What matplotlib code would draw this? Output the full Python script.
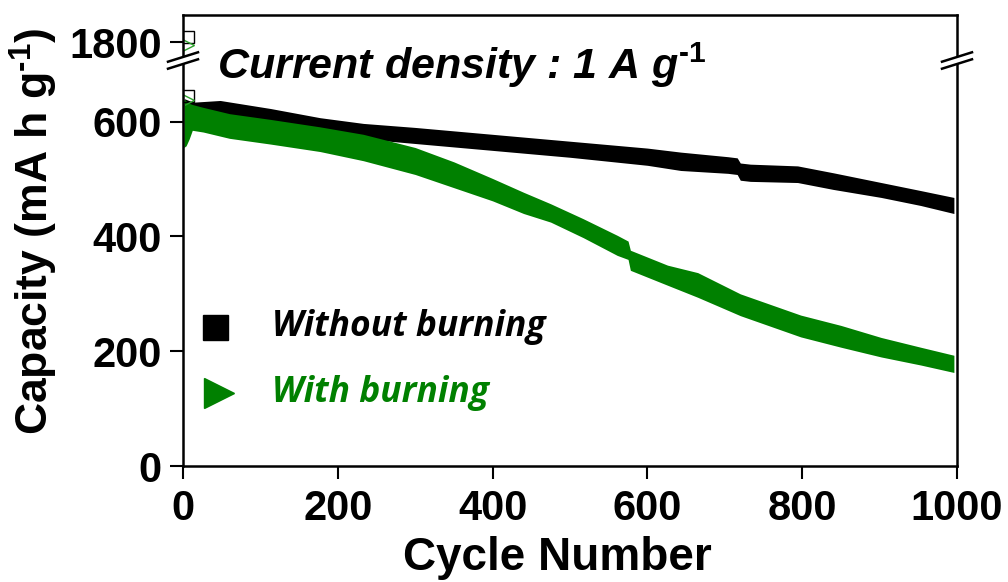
import matplotlib
matplotlib.use("Agg")
import matplotlib.pyplot as plt
from matplotlib.lines import Line2D
from matplotlib.patches import Polygon

# ---- data -------------------------------------------------------------
# capacity envelope (upper / lower edge of the scattered points), mA h g-1
cyc_plain = [2, 13, 48, 113, 177, 233, 300, 400, 500, 600, 643, 704, 716,
             720, 733, 794, 840, 902, 953, 996]
plain_hi = [640, 634, 637, 623, 607, 597, 590, 578, 566, 554, 547, 539, 537,
            528, 526, 523, 511, 494, 480, 468]
plain_lo = [590, 600, 605, 592, 578, 570, 562, 550, 538, 524, 515, 510, 508,
            498, 496, 494, 482, 468, 454, 440]

cyc_burn = [1, 4, 8, 12, 26, 60, 113, 177, 233, 300, 350, 400, 440, 475, 517,
            561, 575, 578, 626, 665, 720, 798, 850, 902, 953, 996]
burn_hi = [640, 636, 632, 630, 625, 614, 604, 591, 578, 555, 530, 501, 477,
           457, 431, 402, 392, 376, 350, 337, 300, 263, 245, 224, 207, 193]
burn_lo = [555, 558, 570, 585, 582, 571, 561, 548, 532, 508, 485, 462, 440,
           425, 398, 367, 360, 341, 315, 294, 262, 225, 207, 190, 176, 163]

# first cycles, drawn as individual open markers
first_cyc = [6]
plain_first_hi = [1808]
burn_first_hi = [1795]
plain_first_lo = [645]
burn_first_lo = [638]

x_ticks = [0, 200, 400, 600, 800, 1000]
y_ticks_low = [0, 200, 400, 600]
y_ticks_high = [1800]

labels = ["Without burning", "With burning"]
colors = ["black", "green"]

# ---- style --------------------------------------------------------------
plt.rcParams["font.family"] = "Liberation Sans"
plt.rcParams["font.weight"] = "bold"
plt.rcParams["mathtext.fontset"] = "custom"
plt.rcParams["mathtext.rm"] = "Liberation Sans:bold"
plt.rcParams["mathtext.bf"] = "Liberation Sans:bold"
plt.rcParams["mathtext.it"] = "Liberation Sans:bold:italic"
plt.rcParams["mathtext.default"] = "rm"

W, H = 1008, 582
fig = plt.figure(figsize=(W / 100, H / 100), dpi=100)


def fx(px):
    return px / W


def fy(py):
    return 1 - py / H


x_left, x_right = 183, 957
y_zero, y_break, y_top = 466, 60.5, 15
px_per_unit = (466 - 121.7) / 600

low_top = (y_zero - y_break) / px_per_unit
high_bot = 1800 - (y_break - 42) / px_per_unit
high_top = 1800 + (42 - y_top) / px_per_unit

ax = fig.add_axes([fx(x_left), fy(y_zero), fx(x_right) - fx(x_left),
                   fy(y_break) - fy(y_zero)])
axu = fig.add_axes([fx(x_left), fy(y_break), fx(x_right) - fx(x_left),
                    fy(y_top) - fy(y_break)])

spine_w = 1.8
for a in (ax, axu):
    a.set_xlim(0, 1000)
    for s in a.spines.values():
        s.set_linewidth(spine_w)
    a.tick_params(direction="out", length=9.4, width=1.5, labelsize=30,
                  pad=6)

ax.set_ylim(0, low_top)
axu.set_ylim(high_bot, high_top)
ax.spines["top"].set_visible(False)
axu.spines["bottom"].set_visible(False)
ax.tick_params(top=False, right=False)
ax.tick_params(axis="x", pad=7)
axu.tick_params(bottom=False, labelbottom=False, top=False, right=False)
ax.set_xticks(x_ticks)
ax.set_yticks(y_ticks_low)
axu.set_xticks([])
axu.set_yticks(y_ticks_high)

# data bands
ax.fill_between(cyc_plain, plain_lo, plain_hi, color=colors[0], lw=0)
ax.plot(first_cyc, plain_first_lo, ls="none", marker="s", ms=8, mfc="none",
        mec=colors[0], mew=1.0)
ax.fill_between(cyc_burn, burn_lo, burn_hi, color=colors[1], lw=0)
ax.plot(first_cyc, burn_first_lo, ls="none", marker=">", ms=9, mfc="none",
        mec="#2ca02c", mew=1.0)
axu.plot(first_cyc, plain_first_hi, ls="none", marker="s", ms=8, mfc="none",
         mec=colors[0], mew=1.0)
axu.plot(first_cyc, burn_first_hi, ls="none", marker=">", ms=9, mfc="none",
         mec="#2ca02c", mew=1.0)

# axis labels
span_x = x_right - x_left
span_y = y_zero - y_break
ax.set_xlabel("Cycle Number", fontsize=33, fontweight="bold")
ax.xaxis.set_label_coords((557 - x_left) / span_x, (y_zero - 536) / span_y)
ax.set_ylabel(r"Capacity (mA h g$^{\text{-}1}$)", fontsize=32,
              fontweight="bold")
ax.yaxis.set_label_coords((60 - x_left) / span_x, (y_zero - 231) / span_y)

# legend
leg_y = [0.342, 0.180]
leg_marks = ["s", ">"]
leg_ms = [18, 21]
leg_x = [0.0413, 0.0465]
for lab, col, mk, ms, lx, ly in zip(labels, colors, leg_marks, leg_ms,
                                     leg_x, leg_y):
    ax.plot([lx], [ly], transform=ax.transAxes, marker=mk, ms=ms, color=col,
            ls="none", clip_on=False)
    ax.text(0.115, ly, lab, transform=ax.transAxes, color=col, fontsize=25.5,
            family="Open Sans", fontweight="bold", fontstyle="italic",
            va="center", ha="left")

# title inside the frame
fig.text(fx(217), fy(79), r"Current density : 1 A g$\mathit{^{\text{-}1}}$",
         fontsize=31, fontweight="bold", fontstyle="italic", va="baseline",
         ha="left")


# axis-break marks on both vertical spines
def break_mark(xc, yc):
    half = 15
    rise = 4.7
    gap = 3.5
    top = [(xc - half, yc - gap + rise), (xc + half, yc - gap - rise)]
    bot = [(xc - half, yc + gap + rise), (xc + half, yc + gap - rise)]
    poly = Polygon([(fx(x), fy(y)) for x, y in top + bot[::-1]],
                   closed=True, facecolor="white", edgecolor="none",
                   transform=fig.transFigure, zorder=10)
    fig.patches.append(poly)
    for seg in (top, bot):
        fig.lines.append(Line2D([fx(p[0]) for p in seg],
                                [fy(p[1]) for p in seg], color="black",
                                lw=1.8, transform=fig.transFigure, zorder=11))


break_mark(x_left, y_break)
break_mark(x_right, y_break)

fig.savefig("out.png", dpi=100)
